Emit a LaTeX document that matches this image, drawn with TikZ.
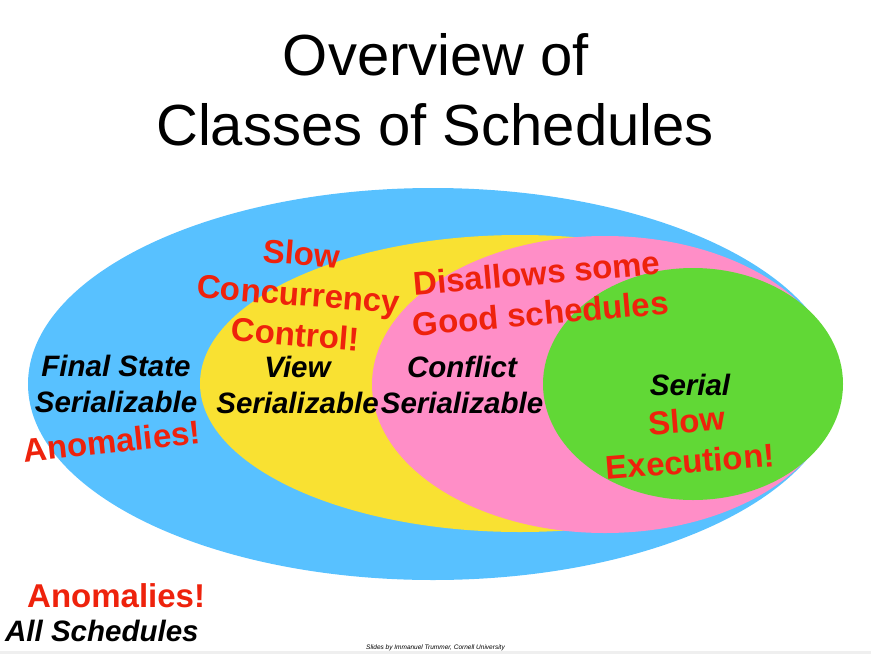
\documentclass[tikz,border=0pt]{standalone}
\usepackage{fontspec}
\setmainfont{Liberation Sans}
\usetikzlibrary{shapes.geometric}

\definecolor{setblue}{HTML}{58C1FF}
\definecolor{setyellow}{HTML}{F9E132}
\definecolor{setpink}{HTML}{FF8EC7}
\definecolor{setgreen}{HTML}{61D836}
\definecolor{alertred}{HTML}{EE220C}
\definecolor{footgray}{HTML}{EFEFEF}

% multi-line labels are placed by the baseline of their last line
\tikzset{
  region/.style={ellipse, draw=none, inner sep=0pt, outer sep=0pt},
  classlabel/.style={font=\fontsize{29.5}{36}\selectfont\bfseries\itshape,
    align=center, anchor=base, inner sep=0pt},
  remark/.style={text=alertred, font=\fontsize{33}{40.5}\selectfont\bfseries,
    align=center, anchor=base, inner sep=0pt},
  heading/.style={font=\fontsize{58}{70}\selectfont, anchor=base, inner sep=0pt},
}

\begin{document}
\begin{tikzpicture}[x=1pt, y=-1pt]
  \useasboundingbox (0,0) rectangle (871,654);
  \fill[white] (0,0) rectangle (871,654);
  \fill[footgray] (0,651) rectangle (871,654);

  % title
  \node[heading] (title1) at (436,75) {Overview of};
  \node[heading] (title2) at (435,145) {Classes of Schedules};

  % nested classes of schedules
  \node[region, fill=setblue,   minimum width=810pt, minimum height=392pt] (fss)  at (433,384) {};
  \node[region, fill=setyellow, minimum width=640pt, minimum height=297pt] (vs)   at (520,383.5) {};
  \node[region, fill=setpink,   minimum width=466pt, minimum height=297pt] (cs)   at (605,384.5) {};
  \node[region, fill=setgreen,  minimum width=300pt, minimum height=232pt] (ser)  at (693,384) {};

  % class names
  \node[classlabel] (fsslabel) at (116,412) {Final State\\Serializable};
  \node[classlabel] (vslabel)  at (297.5,413) {View\\Serializable};
  \node[classlabel] (cslabel)  at (462,413) {Conflict\\Serializable};
  \node[classlabel] (serlabel) at (690,395) {Serial};
  \node[classlabel, anchor=base west] (alllabel) at (5,641) {All Schedules};

  % remarks
  \node[remark, rotate=-4.5] (slowcc) at (294.5,346) {Slow\\Concurrency\\Control!};
  \node[remark, rotate=5] (disallow) at (541.5,325) {Disallows some\\Good schedules};
  \node[remark, rotate=4.5] (slowexec) at (691,473) {Slow\\Execution!};
  \node[remark, rotate=6] (anomfss) at (113,453) {Anomalies!};
  \node[remark, anchor=base west] (anomall) at (27,607) {Anomalies!};

  % footer
  \node[font=\fontsize{6.5}{8}\selectfont\itshape, anchor=base, inner sep=0pt] (credit)
    at (435.5,649) {Slides by Immanuel Trummer, Cornell University};
\end{tikzpicture}
\end{document}
